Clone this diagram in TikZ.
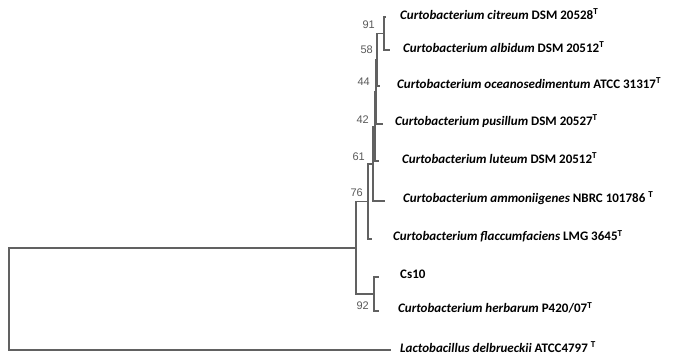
\documentclass[tikz,border=0pt]{standalone}
\usepackage{fontspec}
\setmainfont{Carlito}
\newfontfamily\bsfont{Liberation Sans}
\begin{document}
\begin{tikzpicture}[x=1pt,y=-1pt,
  br/.style={draw=black!62, line width=1.2pt, line cap=rect},
  lf/.style={anchor=west, inner sep=0pt, font=\fontsize{13}{15}\selectfont\bfseries},
  bs/.style={anchor=east, inner sep=0pt, text=black!65, font=\bsfont\fontsize{11}{13}\selectfont}]
\useasboundingbox (0,0) rectangle (688,360);
% internal nodes
\coordinate (root) at (9,248);
\coordinate (ncur) at (356,248);
\coordinate (n92) at (374,294);
\coordinate (n76) at (368,201.5);
\coordinate (n61) at (373,164);
\coordinate (n42) at (375,126.5);
\coordinate (n44) at (376,92);
\coordinate (n58) at (377,60);
\coordinate (n91) at (384,33.5);
% tips
\coordinate (tcit) at (385,17);
\coordinate (talb) at (389,50);
\coordinate (toce) at (379,86);
\coordinate (tpus) at (382,124);
\coordinate (tlut) at (378,161);
\coordinate (tamm) at (384,201);
\coordinate (tfla) at (371,239);
\coordinate (tcs) at (378,277);
\coordinate (ther) at (378,311);
\coordinate (tlac) at (390,350);
% branches
\draw[br] (root) |- (ncur);
\draw[br] (root) |- (tlac);
\draw[br] (ncur) |- (n76);
\draw[br] (ncur) |- (n92);
\draw[br] (n92) |- (tcs);
\draw[br] (n92) |- (ther);
\draw[br] (n76) |- (n61);
\draw[br] (n76) |- (tfla);
\draw[br] (n61) |- (n42);
\draw[br] (n61) |- (tamm);
\draw[br] (n42) |- (n44);
\draw[br] (n42) |- (tlut);
\draw[br] (n44) |- (n58);
\draw[br] (n44) |- (tpus);
\draw[br] (n58) |- (n91);
\draw[br] (n58) |- (toce);
\draw[br] (n91) |- (tcit);
\draw[br] (n91) |- (talb);
% leaf labels
\node[lf] (lcit) at (400,14) {\textit{Curtobacterium citreum} DSM 20528\textsuperscript{T}};
\node[lf] (lalb) at (403,47) {\textit{Curtobacterium albidum} DSM 20512\textsuperscript{T}};
\node[lf] (loce) at (397,83) {\textit{Curtobacterium oceanosedimentum} ATCC 31317\textsuperscript{T}};
\node[lf] (lpus) at (395,121) {\textit{Curtobacterium pusillum} DSM 20527\textsuperscript{T}};
\node[lf] (llut) at (402,158) {\textit{Curtobacterium luteum} DSM 20512\textsuperscript{T}};
\node[lf] (lamm) at (403,198) {\textit{Curtobacterium ammoniigenes} NBRC 101786 \textsuperscript{T}};
\node[lf] (lfla) at (393,236) {\textit{Curtobacterium flaccumfaciens} LMG 3645\textsuperscript{T}};
\node[lf] (lcs) at (400,274) {Cs10};
\node[lf] (lher) at (398,308) {\textit{Curtobacterium herbarum} P420/07\textsuperscript{T}};
\node[lf] (llac) at (400,347) {\textit{Lactobacillus delbrueckii} ATCC4797 \textsuperscript{T}};
% bootstrap values
\node[bs] (b91) at (375,25) {91};
\node[bs] (b58) at (373,50) {58};
\node[bs] (b44) at (370,82) {44};
\node[bs] (b42) at (369,120) {42};
\node[bs] (b61) at (365,157) {61};
\node[bs] (b76) at (363,193) {76};
\node[bs] (b92) at (369,306) {92};
\end{tikzpicture}
\end{document}
